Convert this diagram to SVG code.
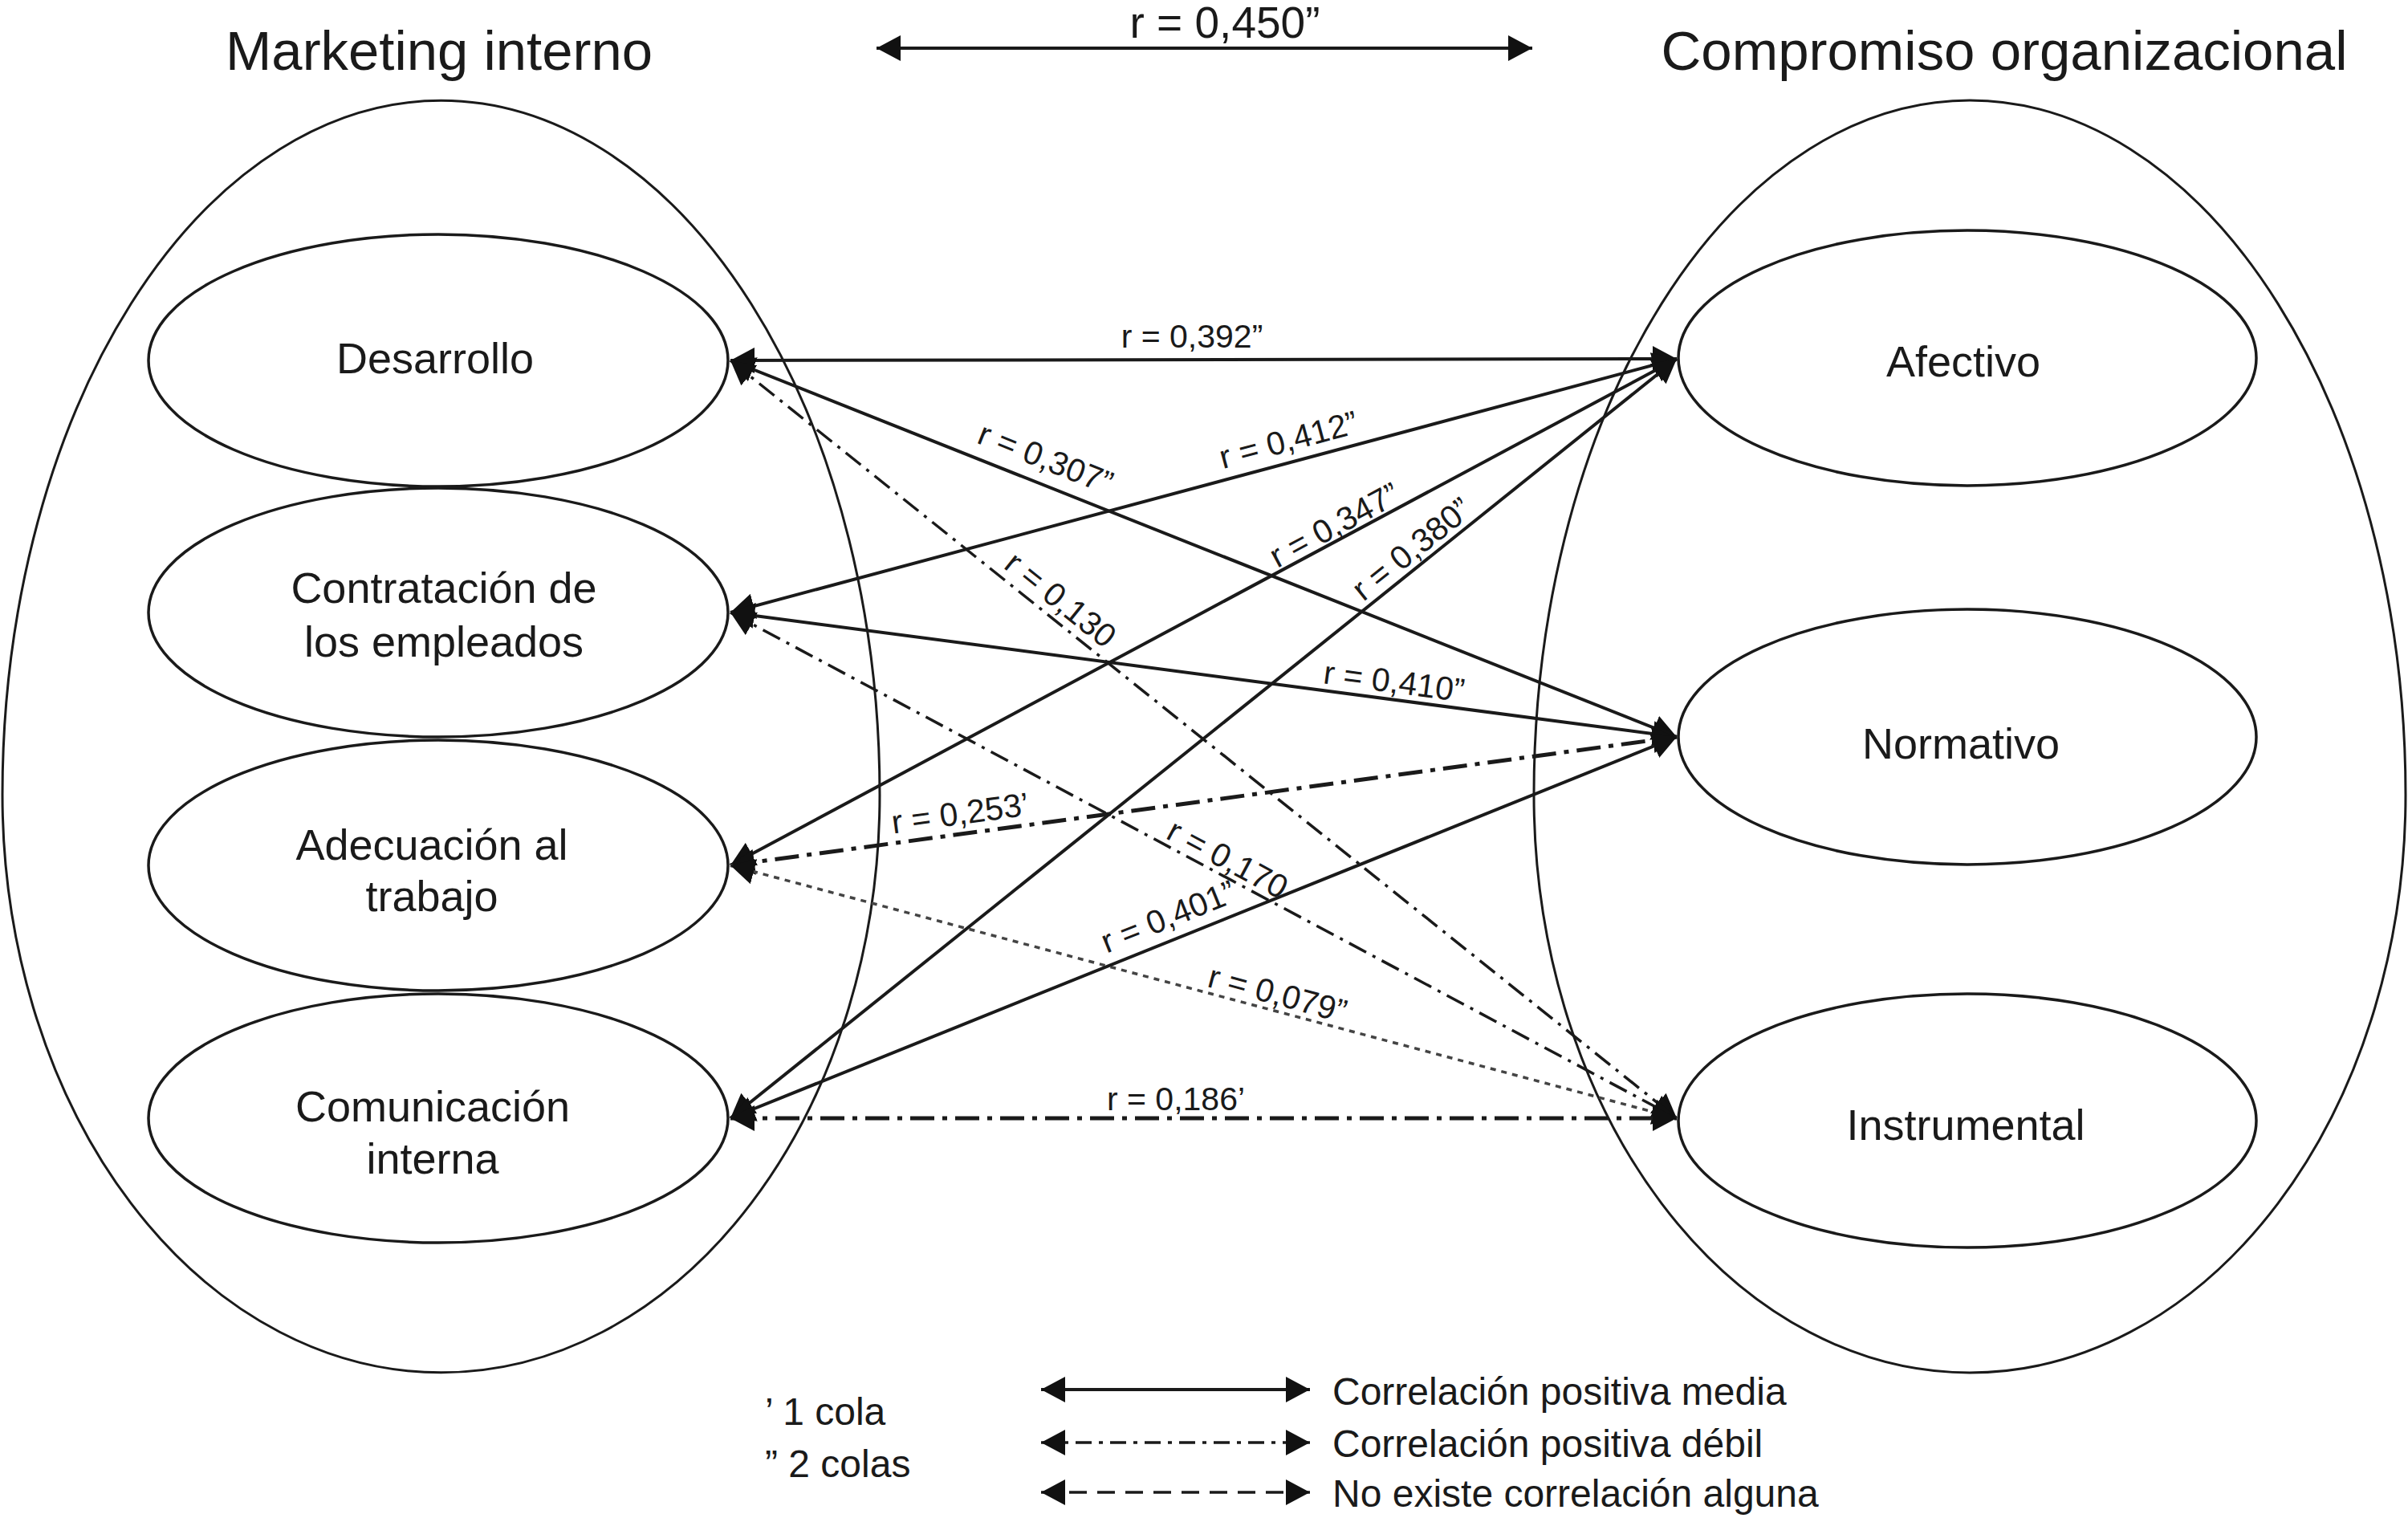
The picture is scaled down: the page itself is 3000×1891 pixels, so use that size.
<svg xmlns="http://www.w3.org/2000/svg" width="3000" height="1891" viewBox="0 0 3000 1891">
<style>
  text { font-family: "Liberation Sans", Arial, sans-serif; fill: #1a1a1a; }
  .title { font-size: 69px; text-anchor: middle; }
  .node { font-size: 54px; text-anchor: middle; }
  .elab { font-size: 41px; text-anchor: middle; }
  .leg { font-size: 48px; }
  .outer { fill: none; stroke: #1a1a1a; stroke-width: 3; }
  .inner { fill: none; stroke: #1a1a1a; stroke-width: 3.5; }
  .solid { stroke: #1a1a1a; stroke-width: 4; fill: none; }
  .dd1 { stroke: #1a1a1a; stroke-width: 3.5; fill: none; stroke-dasharray: 24 9 4 9; }
  .dd2 { stroke: #1a1a1a; stroke-width: 5; fill: none; stroke-dasharray: 30 10 6 10; }
  .dash { stroke: #444; stroke-width: 3.5; fill: none; stroke-dasharray: 7 7; }
  .ldash { stroke: #1a1a1a; stroke-width: 3.5; fill: none; stroke-dasharray: 22 13; }
  .ldd { stroke: #1a1a1a; stroke-width: 3.5; fill: none; stroke-dasharray: 20 9 5 9; }
  .arr { marker-start: url(#ah); marker-end: url(#ah); }
</style>
<defs>
  <marker id="ah" viewBox="0 0 30 32" refX="30" refY="16" markerWidth="30" markerHeight="32" markerUnits="userSpaceOnUse" orient="auto-start-reverse">
    <path d="M0,0 L30,16 L0,32 z" fill="#111"/>
  </marker>
</defs>
<rect width="3000" height="1891" fill="#fff"/>

<g id="marketing-interno">
  <path class="outer" d="M 3,990 A 546.5,865 0 0 1 1096,990 A 546.5,720 0 0 1 3,990 Z"/>
  <text class="title" x="547" y="87" textLength="532" lengthAdjust="spacingAndGlyphs">Marketing interno</text>
</g>
<g id="compromiso-organizacional">
  <path class="outer" d="M 1911,990 A 543,865 0 0 1 2997,990 A 543,720 0 0 1 1911,990 Z"/>
  <text class="title" x="2497" y="87" textLength="855" lengthAdjust="spacingAndGlyphs">Compromiso organizacional</text>
</g>

<g id="desarrollo">
  <ellipse class="inner" cx="546" cy="449" rx="361" ry="157"/>
  <text class="node" x="542" y="465">Desarrollo</text>
</g>
<g id="contratacion">
  <ellipse class="inner" cx="546" cy="763" rx="361" ry="155"/>
  <text class="node" x="553" y="751">Contratación de</text>
  <text class="node" x="553" y="818">los empleados</text>
</g>
<g id="adecuacion">
  <ellipse class="inner" cx="546" cy="1078" rx="361" ry="156"/>
  <text class="node" x="538" y="1071">Adecuación al</text>
  <text class="node" x="538" y="1135">trabajo</text>
</g>
<g id="comunicacion">
  <ellipse class="inner" cx="546" cy="1393" rx="361" ry="155"/>
  <text class="node" x="539" y="1397">Comunicación</text>
  <text class="node" x="539" y="1462">interna</text>
</g>
<g id="afectivo">
  <ellipse class="inner" cx="2451" cy="446" rx="360" ry="159"/>
  <text class="node" x="2446" y="469">Afectivo</text>
</g>
<g id="normativo">
  <ellipse class="inner" cx="2451" cy="918" rx="360" ry="159"/>
  <text class="node" x="2443" y="945">Normativo</text>
</g>
<g id="instrumental">
  <ellipse class="inner" cx="2451" cy="1396" rx="360" ry="158"/>
  <text class="node" x="2449" y="1420">Instrumental</text>
</g>

<g id="connectors">
  <line class="solid arr" x1="1092" y1="60" x2="1909" y2="60"/>
  <line class="solid arr" x1="910" y1="449" x2="2089" y2="447"/>
  <line class="solid arr" x1="910" y1="449" x2="2089" y2="918"/>
  <line class="dd1 arr" x1="910" y1="449" x2="2089" y2="1393"/>
  <line class="solid arr" x1="910" y1="763" x2="2089" y2="447"/>
  <line class="solid arr" x1="910" y1="763" x2="2089" y2="918"/>
  <line class="dd1 arr" x1="910" y1="763" x2="2089" y2="1393"/>
  <line class="solid arr" x1="910" y1="1078" x2="2089" y2="447"/>
  <line class="dd2 arr" x1="910" y1="1078" x2="2089" y2="918"/>
  <line class="dash arr" x1="910" y1="1078" x2="2089" y2="1393"/>
  <line class="solid arr" x1="910" y1="1393" x2="2089" y2="447"/>
  <line class="solid arr" x1="910" y1="1393" x2="2089" y2="918"/>
  <line class="dd2 arr" x1="910" y1="1393" x2="2089" y2="1393"/>
</g>

<g id="connector-labels">
  <text x="1526" y="47" style="font-size:55px;text-anchor:middle">r = 0,450”</text>
  <text class="elab" x="1485" y="433">r = 0,392”</text>
  <g transform="translate(1303,570) rotate(21.7)"><text class="elab" x="0" y="15">r = 0,307”</text></g>
  <g transform="translate(1605,547) rotate(-15)"><text class="elab" x="0" y="15">r = 0,412”</text></g>
  <g transform="translate(1662,653) rotate(-28.2)"><text class="elab" x="0" y="15">r = 0,347”</text></g>
  <g transform="translate(1758,683) rotate(-38.7)"><text class="elab" x="0" y="15">r = 0,380”</text></g>
  <g transform="translate(1322,746) rotate(38.7)"><text class="elab" x="0" y="15">r = 0,130</text></g>
  <g transform="translate(1737,848) rotate(7.5)"><text class="elab" x="0" y="15">r = 0,410”</text></g>
  <g transform="translate(1196,1012) rotate(-7.7)"><text class="elab" x="0" y="15">r = 0,253’</text></g>
  <g transform="translate(1530,1069) rotate(28.1)"><text class="elab" x="0" y="15">r = 0,170</text></g>
  <g transform="translate(1455,1141) rotate(-21.9)"><text class="elab" x="0" y="15">r = 0,401”</text></g>
  <g transform="translate(1592,1237) rotate(15)"><text class="elab" x="0" y="15">r = 0,079”</text></g>
  <text class="elab" x="1465" y="1383">r = 0,186’</text>
</g>

<g id="legend">
  <text class="leg" x="953" y="1775">’ 1 cola</text>
  <text class="leg" x="953" y="1840">” 2 colas</text>
  <line class="solid arr" x1="1297" y1="1731" x2="1632" y2="1731"/>
  <line class="ldd arr" x1="1297" y1="1797" x2="1632" y2="1797"/>
  <line class="ldash arr" x1="1297" y1="1859" x2="1632" y2="1859"/>
  <text class="leg" x="1660" y="1750">Correlación positiva media</text>
  <text class="leg" x="1660" y="1815">Correlación positiva débil</text>
  <text class="leg" x="1660" y="1877">No existe correlación alguna</text>
</g>
</svg>
